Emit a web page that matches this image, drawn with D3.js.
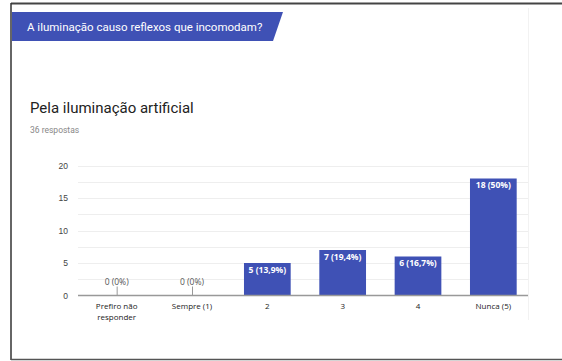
<!DOCTYPE html>
<html><head><meta charset="utf-8">
<script src="https://cdn.jsdelivr.net/npm/d3@7"></script>
<style>html,body{margin:0;padding:0;background:#fff;}svg{display:block;}</style>
</head><body>
<svg id="c" width="562" height="361"></svg>
<script>
const categories = ["Prefiro não\nresponder", "Sempre (1)", "2", "3", "4", "Nunca (5)"];
const counts = [0, 0, 5, 7, 6, 18];
const labels = ["0 (0%)", "0 (0%)", "5 (13,9%)", "7 (19,4%)", "6 (16,7%)", "18 (50%)"];
const yTicks = [0, 5, 10, 15, 20];
const gridTicks = [2.5, 5, 7.5, 10, 12.5, 15, 17.5, 20];
const headerText = "A iluminação causo reflexos que incomodam?";
const titleText = "Pela iluminação artificial";
const subText = "36 respostas";

const svg = d3.select("#c");
const blue = "#3f51b5";

// outer frame
svg.append("line").attr("x1",11).attr("x2",562).attr("y1",3.5).attr("y2",3.5).attr("stroke","#444").attr("stroke-width",2);
svg.append("line").attr("x1",11).attr("x2",11).attr("y1",3).attr("y2",360).attr("stroke","#333").attr("stroke-width",1.5);
svg.append("line").attr("x1",11).attr("x2",562).attr("y1",359.5).attr("y2",359.5).attr("stroke","#555").attr("stroke-width",1.5);

// header banner
svg.append("path").attr("d","M12,12 L283,12 L273,41 L12,41 Z").attr("fill",blue);
svg.append("text").attr("x",27).attr("y",30.5).attr("fill","#fff")
  .attr("font-family","Roboto, sans-serif").attr("font-size",11.5).text(headerText);

svg.append("text").attr("x",30).attr("y",113).attr("fill","#222")
  .attr("font-family","Roboto, sans-serif").attr("font-size",15).text(titleText);
svg.append("text").attr("x",30).attr("y",133).attr("fill","#888")
  .attr("font-family","Roboto, sans-serif").attr("font-size",8.5).text(subText);

// chart container edge
svg.append("line").attr("x1",528.5).attr("x2",528.5).attr("y1",8).attr("y2",320).attr("stroke","#f2f2f2");

const x = d3.scaleBand().domain(categories).range([79, 531]).paddingInner(0.38).paddingOuter(0.19);
const y = d3.scaleLinear().domain([0, 20]).range([295.5, 165.5]);
const left = 78, right = 528;

svg.append("g").selectAll("line").data(gridTicks).join("line")
  .attr("x1",left).attr("x2",right).attr("y1",d=>Math.round(y(d))+0.5).attr("y2",d=>Math.round(y(d))+0.5)
  .attr("stroke","#eeeeee");

const ya = svg.append("g").attr("transform",`translate(${left},0)`)
  .call(d3.axisLeft(y).tickValues(yTicks).tickSize(0).tickPadding(10));
ya.select(".domain").remove();
ya.selectAll("text").attr("fill","#444").attr("font-family","'Liberation Sans', Arial, sans-serif").attr("font-size",8.5);

svg.append("g").selectAll("rect").data(counts).join("rect")
  .attr("x",(d,i)=>x(categories[i])).attr("width",x.bandwidth())
  .attr("y",d=>y(d)).attr("height",d=>y(0)-y(d)).attr("fill",blue);

// zero-value stems
svg.append("g").selectAll("line").data(counts.map((d,i)=>[d,i]).filter(p=>p[0]===0)).join("line")
  .attr("x1",p=>x(categories[p[1]])+x.bandwidth()/2+0.5).attr("x2",p=>x(categories[p[1]])+x.bandwidth()/2+0.5)
  .attr("y1",y(0)).attr("y2",y(0)-9).attr("stroke","#999");

svg.append("g").selectAll("text").data(counts).join("text")
  .attr("x",(d,i)=>x(categories[i])+x.bandwidth()/2)
  .attr("y",d=> d===0 ? y(0)-11 : y(d)+9.5)
  .attr("text-anchor","middle")
  .attr("fill",d=> d===0 ? "#555" : "#fff")
  .attr("font-weight",d=> d===0 ? "normal" : "bold")
  .attr("font-family","'Open Sans', 'Liberation Sans', sans-serif").attr("font-size",8.5)
  .text((d,i)=>labels[i]);

// baseline axis
const xa = svg.append("g").attr("transform",`translate(0,${y(0)})`)
  .call(d3.axisBottom(x).tickSize(0).tickFormat(""));
xa.select(".domain").remove();
svg.append("line").attr("x1",left).attr("x2",right).attr("y1",y(0)).attr("y2",y(0)).attr("stroke","#999").attr("stroke-width",1.5);

const xl = svg.append("g").selectAll("text").data(categories).join("text")
  .attr("x",d=>x(d)+x.bandwidth()/2).attr("y",309)
  .attr("text-anchor","middle").attr("fill","#222")
  .attr("font-family","'Open Sans', 'Liberation Sans', sans-serif").attr("font-size",8);
xl.each(function(d){
  const lines = d.split("\n");
  d3.select(this).selectAll("tspan").data(lines).join("tspan")
    .attr("x",x(d)+x.bandwidth()/2).attr("dy",(l,i)=>i===0?0:11).text(l=>l);
});
</script>
</body></html>
